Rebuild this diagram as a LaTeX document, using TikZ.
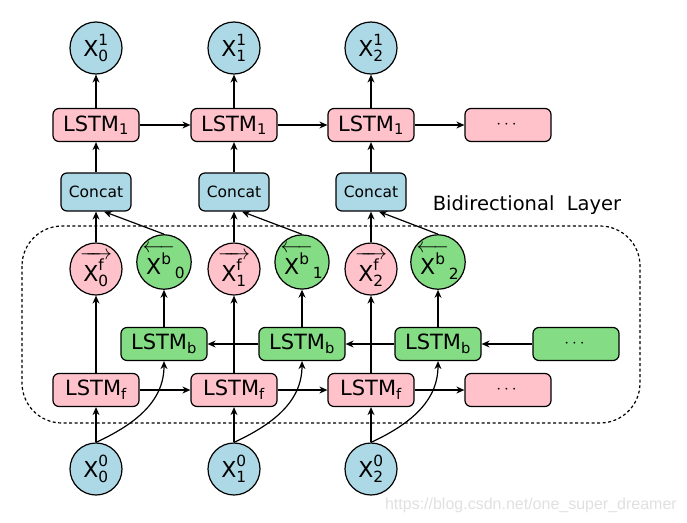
\documentclass[tikz,border=0pt]{standalone}
\usepackage{amsmath}
\usepackage{fontspec}
\setmainfont{DejaVu Sans}
\newfontfamily\wmfont{Liberation Sans}
\usetikzlibrary{arrows.meta}
\definecolor{cblue}{HTML}{ADD8E6}
\definecolor{cpink}{HTML}{FFC2CB}
\definecolor{cgreen}{HTML}{84DC84}
\tikzset{
  circ/.style={circle, draw, line width=1.2pt, minimum size=52pt, inner sep=0pt, font=\fontsize{22}{22}\selectfont},
  lbox/.style={rounded corners=6pt, draw, line width=1.2pt, minimum width=86pt, minimum height=33pt, inner sep=0pt, font=\fontsize{21}{21}\selectfont},
  dbox/.style={lbox, font=\fontsize{17}{17}\selectfont},
  cbox/.style={rounded corners=6pt, draw, line width=1.2pt, minimum width=70pt, minimum height=38pt, inner sep=0pt, fill=cblue, font=\fontsize{15.5}{15.5}\selectfont},
  arr/.style={-{Stealth[length=8pt,width=7pt]}, line width=1.2pt},
}
\begin{document}
\begin{tikzpicture}[x=1pt,y=-1pt]
\useasboundingbox (0,0) rectangle (687,522);
% dashed layer box
\draw[line width=1.2pt, dash pattern=on 3pt off 2.5pt, rounded corners=40pt] (22,226) rectangle (640,423);
\node[font=\fontsize{19.5}{19.5}\selectfont] (bl) at (527,205) {Bidirectional\ \ Layer};
% columns
\foreach \i/\c/\b in {0/96/164, 1/234/302, 2/371/438} {
  \node[circ, fill=cblue] (t\i) at (\c,48) {$\text{X}^{\text{1}}_{\text{\i}}$};
  \node[lbox, fill=cpink] (la\i) at (\c,125) {LSTM$_{\text{1}}$};
  \node[cbox] (cc\i) at (\c,192) {Concat};
  \node[circ, fill=cpink] (f\i) at (\c,269) {$\overrightarrow{\rule{0pt}{0.95em}\,\text{X}^{\text{f}}_{\text{\i}}\,}$};
  \node[circ, fill=cgreen] (bb\i) at (\b,262) {$\overleftarrow{\rule{0pt}{0.95em}\,\text{X}^{\text{b}}\,}_{\text{\i}}$};
  \node[lbox, fill=cgreen] (lb\i) at (\b,344) {LSTM$_{\text{b}}$};
  \node[lbox, fill=cpink] (lf\i) at (\c,390) {LSTM$_{\text{f}}$};
  \node[circ, fill=cblue] (x\i) at (\c,469) {$\text{X}^{\text{0}}_{\text{\i}}$};
  \draw[arr] (la\i) -- (t\i);
  \draw[arr] (cc\i) -- (la\i);
  \draw[arr] (f\i) -- (cc\i);
  \draw[arr] (bb\i.north) -- ([xshift=8pt]cc\i.south);
  \draw[arr] (lf\i) -- (f\i);
  \draw[arr] (lb\i) -- (bb\i);
  \draw[arr] (x\i) -- (lf\i);
  \draw[arr] (x\i.north) to[out=25,in=-90] (lb\i.south);
}
\node[dbox, fill=cpink] (ladots) at (508,125) {$\cdots$};
\node[dbox, fill=cpink] (lfdots) at (508,390) {$\cdots$};
\node[dbox, fill=cgreen] (lbdots) at (576,344) {$\cdots$};
% horizontal connections
\draw[arr] (la0) -- (la1);
\draw[arr] (la1) -- (la2);
\draw[arr] (la2) -- (ladots);
\draw[arr] (lf0) -- (lf1);
\draw[arr] (lf1) -- (lf2);
\draw[arr] (lf2) -- (lfdots);
\draw[arr] (lbdots) -- (lb2);
\draw[arr] (lb2) -- (lb1);
\draw[arr] (lb1) -- (lb0);
% watermark
\node[text=black!12, font=\wmfont\fontsize{16}{16}\selectfont, anchor=east, inner sep=0pt] (wm) at (677,505) {https://blog.csdn.net/one\_super\_dreamer};
\end{tikzpicture}
\end{document}
